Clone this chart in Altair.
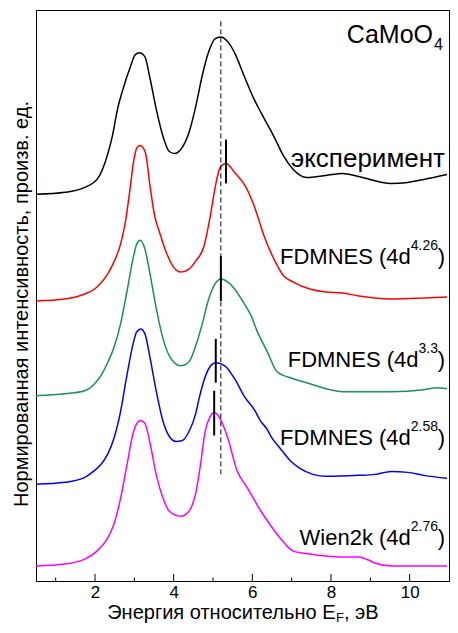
import altair as alt
import pandas as pd

FONT = "Liberation Sans"

# ---- data (x in eV, y in stacked arbitrary units) ----
black_x = [0.5, 1.24, 1.74, 2.07, 2.20, 2.32, 2.45, 2.57, 2.73, 2.90, 3.02, 3.13, 3.27, 3.39, 3.56, 3.73,
           3.89, 4.03, 4.18, 4.39, 4.56, 4.72, 4.89, 5.05, 5.20, 5.38, 5.55, 5.80, 6.05, 6.22, 6.55, 6.80,
           7.04, 7.38, 7.87, 8.29, 8.70, 9.53, 9.95, 10.36, 10.95]
black_y = [388, 390, 395, 404, 414, 428, 448, 473, 496, 516, 528, 530, 526, 506, 473, 446,
           431, 429, 433, 450, 476, 506, 531, 544, 546, 541, 530, 506, 483, 470, 446, 426,
           413, 405, 407, 409, 406, 399, 400, 403, 408]

red_x = [0.5, 1.24, 1.74, 1.99, 2.15, 2.32, 2.48, 2.65, 2.78, 2.88, 2.99, 3.07, 3.15, 3.28, 3.40, 3.52,
         3.64, 3.81, 3.98, 4.18, 4.39, 4.56, 4.77, 4.93, 5.06, 5.18, 5.33, 5.55, 5.84, 6.05, 6.30, 6.55,
         6.80, 7.04, 7.46, 7.87, 8.29, 8.71, 9.53, 10.36, 10.95]
red_y = [281, 283, 288, 293, 299, 308, 320, 338, 362, 390, 423, 435, 437, 430, 396, 366,
         350, 330, 316, 310, 313, 321, 336, 366, 396, 415, 419, 410, 395, 376, 346, 323,
         306, 300, 293, 290, 289, 286, 283, 284, 285]

green_x = [0.5, 1.24, 1.74, 1.99, 2.15, 2.32, 2.48, 2.65, 2.81, 2.98, 3.06, 3.15, 3.27, 3.39, 3.56, 3.73,
           3.89, 4.18, 4.39, 4.56, 4.72, 4.89, 5.05, 5.20, 5.38, 5.55, 5.72, 5.97, 6.13, 6.38, 6.63, 7.04,
           7.46, 7.87, 8.29, 9.53, 10.36, 10.69, 10.95]
green_y = [186, 188, 191, 198, 206, 219, 234, 258, 290, 326, 338, 342, 333, 310, 273, 243,
           226, 216, 220, 236, 257, 283, 298, 303, 300, 293, 283, 266, 250, 230, 210, 203,
           198, 193, 190, 190, 192, 194, 193]

blue_x = [0.5, 1.24, 1.74, 1.99, 2.15, 2.32, 2.48, 2.65, 2.81, 2.98, 3.06, 3.16, 3.27, 3.39, 3.56, 3.73,
          3.89, 4.06, 4.22, 4.39, 4.56, 4.64, 4.76, 4.89, 5.07, 5.30, 5.55, 5.80, 6.05, 6.22, 6.38, 6.46,
          6.71, 6.96, 7.21, 7.54, 7.87, 8.70, 9.12, 9.53, 9.95, 10.36, 10.95]
blue_y = [97, 99, 104, 111, 117, 127, 143, 170, 206, 240, 250, 253, 248, 226, 190, 160,
          145, 140, 141, 150, 168, 182, 200, 213, 219, 216, 203, 185, 172, 160, 152, 146,
          133, 121, 113, 107, 105, 106, 107, 110, 109, 106, 103]

magenta_x = [0.5, 1.24, 1.74, 1.99, 2.15, 2.32, 2.48, 2.65, 2.81, 2.98, 3.06, 3.15, 3.27, 3.39, 3.56, 3.73,
             3.89, 4.18, 4.39, 4.47, 4.56, 4.68, 4.80, 4.93, 5.03, 5.18, 5.38, 5.60, 5.88, 6.22, 6.46, 6.71,
             7.04, 7.46, 7.87, 8.29, 8.70, 8.95, 9.12, 9.53, 10.95]
magenta_y = [15, 17, 22, 28, 34, 43, 57, 83, 116, 150, 158, 161, 158, 140, 106, 83,
             70, 65, 70, 76, 88, 116, 150, 165, 169, 163, 143, 112, 93, 70, 56, 43,
             30, 27, 25, 24, 24, 21, 18, 15, 15]

series_names = ["эксперимент", "FDMNES 4.26", "FDMNES 3.3", "FDMNES 2.58", "Wien2k 2.76"]
series_colors = ["#000000", "#FF0000", "#17905E", "#0000FF", "#FF00FF"]
series_data = [(black_x, black_y), (red_x, red_y), (green_x, green_y), (blue_x, blue_y), (magenta_x, magenta_y)]

# peak markers (short vertical bars)
mark_x = [5.33, 5.20, 5.07, 5.03]
mark_y1 = [399, 281, 199, 146]
mark_y2 = [443, 326, 243, 191]

# dashed reference line
ref_x = [5.2]
ref_y1 = [107]
ref_y2 = [563]

major_ticks = [2, 4, 6, 8, 10]
minor_ticks = [1, 3, 5, 7, 9]

W, H = 413, 571
XDOM = [0.5, 11]
YDOM = [0, 573]

rows = []
for name, (xs, ys) in zip(series_names, series_data):
    for xv, yv in zip(xs, ys):
        rows.append({"x": xv, "y": yv, "s": name})
df = pd.DataFrame(rows)

xscale = alt.Scale(domain=XDOM, nice=False, zero=False)
yscale = alt.Scale(domain=YDOM, nice=False, zero=False)

lines = alt.Chart(df).mark_line(strokeWidth=1.5, interpolate="monotone", clip=True).encode(
    x=alt.X("x:Q", scale=xscale,
            axis=alt.Axis(values=major_ticks, ticks=False, domain=False, grid=False,
                          labelFont=FONT, labelFontSize=17, labelColor="black",
                          labelPadding=3, title=None, format="d")),
    y=alt.Y("y:Q", scale=yscale, axis=None),
    color=alt.Color("s:N", scale=alt.Scale(domain=series_names, range=series_colors), legend=None),
    detail="s:N",
)

ref = alt.Chart(pd.DataFrame({"x": ref_x, "y1": ref_y1, "y2": ref_y2})).mark_rule(
    color="black", strokeWidth=1, strokeDash=[5, 3]).encode(
    x=alt.X("x:Q", scale=xscale), y=alt.Y("y1:Q", scale=yscale), y2="y2:Q")

marks = alt.Chart(pd.DataFrame({"x": mark_x, "y1": mark_y1, "y2": mark_y2})).mark_rule(
    color="black", strokeWidth=2).encode(
    x=alt.X("x:Q", scale=xscale), y=alt.Y("y1:Q", scale=yscale), y2="y2:Q")

maj = alt.Chart(pd.DataFrame({"x": major_ticks})).mark_rule(color="black", strokeWidth=1).encode(
    x=alt.X("x:Q", scale=xscale), y=alt.value(H), y2=alt.value(H - 7))
mino = alt.Chart(pd.DataFrame({"x": minor_ticks})).mark_rule(color="black", strokeWidth=1).encode(
    x=alt.X("x:Q", scale=xscale), y=alt.value(H), y2=alt.value(H - 3.5))


def label(text, px, py, size, align="right", angle=0):
    return alt.Chart(pd.DataFrame({"t": [text]})).mark_text(
        font=FONT, fontSize=size, align=align, baseline="alphabetic", color="black", angle=angle
    ).encode(x=alt.value(px), y=alt.value(py), text="t:N")


RIGHT = W - 4  # right anchor of curve labels

texts = [
    label("CaMoO", W - 16, 32.7, 25),
    label("4", W - 15, 39.5, 16, "left"),
    label("эксперимент", RIGHT, 156.7, 26),
]
# FDMNES / Wien2k labels: (main, sup, baseline)
curve_labels = [
    ("FDMNES (4d", "4.26", 254),
    ("FDMNES (4d", "3.3", 356.5),
    ("FDMNES (4d", "2.58", 435),
    ("Wien2k (4d", "2.76", 535),
]
sup_w = {"4.26": 27.2, "3.3": 19.5, "2.58": 27.2, "2.76": 27.2}
for main, sup, base in curve_labels:
    texts.append(label(")", RIGHT, base, 22))
    texts.append(label(sup, RIGHT - 7, base - 14, 14))
    texts.append(label(main, RIGHT - 7 - sup_w[sup], base, 22))

# axis titles
texts.append(label("Нормированная интенсивность, произв. ед.", -8, 294, 20, "center", 270))
XT_END = W / 2 + 93
texts.append(label("Энергия относительно E", XT_END, 608.5, 20))
texts.append(label("F", XT_END + 0.5, 612, 13, "left"))
texts.append(label(", эВ", XT_END + 8.5, 608.5, 20, "left"))

chart = alt.layer(lines, ref, marks, maj, mino, *texts).properties(
    width=W, height=H,
    autosize=alt.AutoSizeParams(type="none"),
    padding={"left": 28, "top": 2, "right": 1, "bottom": 44},
    background="white",
).configure_view(stroke="black", strokeWidth=1)

chart.save("out.html", embed_options={"renderer": "svg", "actions": False})
